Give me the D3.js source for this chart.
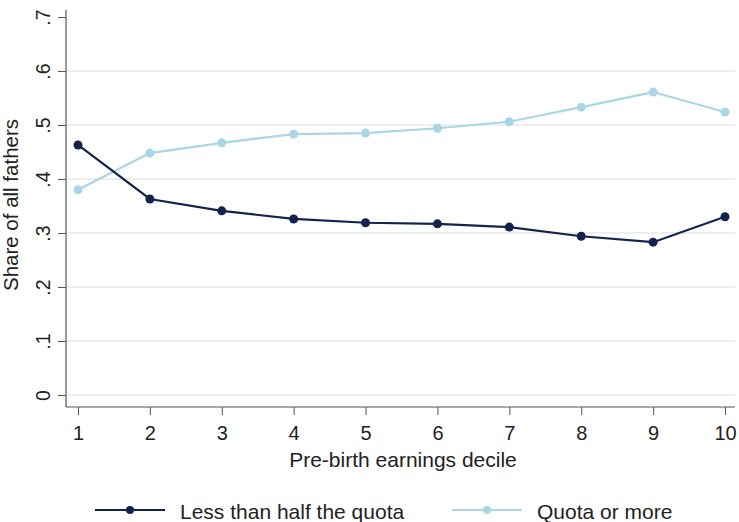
<!DOCTYPE html>
<html lang="en">
<head>
  <meta charset="UTF-8">
  <title>Share of all fathers by pre-birth earnings decile</title>
  <script src="https://d3js.org/d3.v7.min.js"></script>
  <style>
    body { margin: 0; background: #fff; }
    text { font-family: "Liberation Sans", Arial, sans-serif; fill: #222; }
  </style>
</head>
<body>
  <svg id="chart"></svg>
  <script>
    // data
    const deciles = [1, 2, 3, 4, 5, 6, 7, 8, 9, 10];
    const lessThanHalf = [0.463, 0.363, 0.341, 0.326, 0.319, 0.317, 0.311, 0.294, 0.283, 0.330];
    const quotaOrMore = [0.380, 0.448, 0.467, 0.483, 0.485, 0.494, 0.506, 0.533, 0.561, 0.524];
    const yTicks = [0, 0.1, 0.2, 0.3, 0.4, 0.5, 0.6, 0.7];
    const seriesNames = ["Less than half the quota", "Quota or more"];

    const width = 739, height = 522;
    const colors = ["#14234d", "#a9d6e5"];

    const svg = d3.select("#chart")
      .attr("width", width)
      .attr("height", height);

    const x = d3.scaleLinear().domain([1, 10]).range([78, 725]);
    const y = d3.scaleLinear().domain([0, 0.7]).range([395, 17]);
    const axisX = 66, axisY = 407;

    // gridlines (none at the top tick)
    svg.append("g")
      .selectAll("line")
      .data(yTicks.filter(d => d < 0.7))
      .enter()
      .append("line")
      .attr("x1", axisX)
      .attr("x2", 735)
      .attr("y1", d => y(d))
      .attr("y2", d => y(d))
      .attr("stroke", "#e8e8e8")
      .attr("stroke-width", 1.5);

    // y axis
    const yAxis = svg.append("g")
      .attr("transform", "translate(" + axisX + ",0)")
      .call(d3.axisLeft(y)
        .tickValues(yTicks)
        .tickSize(8)
        .tickSizeOuter(0)
        .tickFormat(d => d === 0 ? "0" : d3.format(".1f")(d).replace(/^0/, "")));
    yAxis.select(".domain").remove();
    yAxis.selectAll(".tick line").attr("stroke", "#555");
    yAxis.selectAll(".tick text")
      .attr("transform", "rotate(-90)")
      .attr("x", 0)
      .attr("y", -16)
      .attr("dy", 0)
      .attr("text-anchor", "middle")
      .attr("font-size", 19.5)
      .attr("fill", "#222");

    // x axis
    const xAxis = svg.append("g")
      .attr("transform", "translate(0," + axisY + ")")
      .call(d3.axisBottom(x)
        .tickValues(deciles)
        .tickSize(8)
        .tickSizeOuter(0)
        .tickFormat(d3.format("d")));
    xAxis.select(".domain").remove();
    xAxis.selectAll(".tick line").attr("stroke", "#555");
    xAxis.selectAll(".tick text")
      .attr("y", 33)
      .attr("dy", 0)
      .attr("font-size", 20)
      .attr("fill", "#222");

    // axis lines
    svg.append("line")
      .attr("x1", axisX).attr("x2", axisX)
      .attr("y1", 10).attr("y2", axisY)
      .attr("stroke", "#555").attr("stroke-width", 1.2);
    svg.append("line")
      .attr("x1", axisX).attr("x2", 735)
      .attr("y1", axisY).attr("y2", axisY)
      .attr("stroke", "#555").attr("stroke-width", 1.2);

    // axis titles
    svg.append("text")
      .attr("transform", "translate(18,205) rotate(-90)")
      .attr("text-anchor", "middle")
      .attr("font-size", 20.5)
      .text("Share of all fathers");

    svg.append("text")
      .attr("x", 403)
      .attr("y", 467)
      .attr("text-anchor", "middle")
      .attr("font-size", 21)
      .text("Pre-birth earnings decile");

    // lines and markers
    const allSeries = [lessThanHalf, quotaOrMore];
    const line = d3.line()
      .x((d, i) => x(deciles[i]))
      .y(d => y(d));

    // draw light series first so the dark one sits on top
    [1, 0].forEach(s => {
      svg.append("path")
        .datum(allSeries[s])
        .attr("d", line)
        .attr("fill", "none")
        .attr("stroke", colors[s])
        .attr("stroke-width", 2.2);

      svg.append("g")
        .selectAll("circle")
        .data(allSeries[s])
        .enter()
        .append("circle")
        .attr("cx", (d, i) => x(deciles[i]))
        .attr("cy", d => y(d))
        .attr("r", 4.5)
        .attr("fill", colors[s]);
    });

    // legend
    const legendX = [95, 452];
    const legend = svg.append("g")
      .selectAll("g")
      .data(seriesNames)
      .enter()
      .append("g")
      .attr("transform", (d, i) => "translate(" + legendX[i] + ",510)");

    legend.append("line")
      .attr("x1", 0).attr("x2", 70)
      .attr("y1", 0).attr("y2", 0)
      .attr("stroke", (d, i) => colors[i])
      .attr("stroke-width", 2.2);
    legend.append("circle")
      .attr("cx", 35).attr("cy", 0).attr("r", 4)
      .attr("fill", (d, i) => colors[i]);
    legend.append("text")
      .attr("x", 85)
      .attr("y", 9)
      .attr("font-size", 21)
      .text(d => d);
  </script>
</body>
</html>
